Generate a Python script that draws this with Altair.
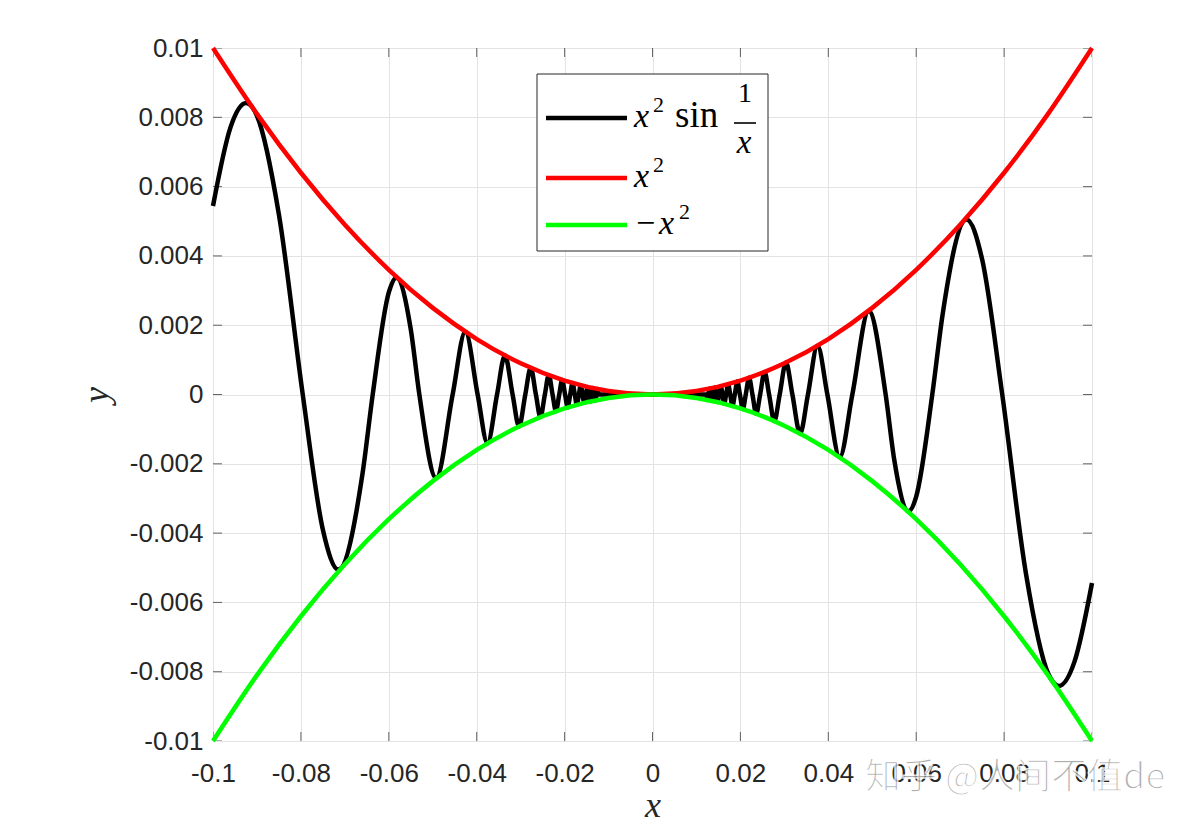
import altair as alt
import pandas as pd

x_ticks = [-0.1, -0.08, -0.06, -0.04, -0.02, 0, 0.02, 0.04, 0.06, 0.08, 0.1]
y_ticks = [-0.01, -0.008, -0.006, -0.004, -0.002, 0, 0.002, 0.004, 0.006, 0.008, 0.01]

series_colors = ["#000000", "#ff0000", "#00ff00"]

black_x = [
    -0.1, -0.096, -0.09246, -0.09, -0.085, -0.07958, -0.075, -0.07145, -0.066, -0.06366,
    -0.06, -0.05826, -0.055, -0.05305, -0.04921, -0.04547, -0.04259, -0.03979, -0.03755,
    -0.03537, -0.03358, -0.03183, -0.03037, -0.02894, -0.02772, -0.02653, -0.0255, -0.02449,
    -0.0236, -0.02274, -0.02197, -0.02122, -0.02055, -0.01989, -0.01931, -0.01872, -0.0182,
    -0.01768, -0.01722, -0.01675, -0.01633, -0.01592, -0.01553, -0.01516, -0.01481, -0.01447,
    -0.01415, -0.01384, -0.01355, -0.01326, -0.013, -0.01273, -0.01249, -0.01224,
    0.0,
    0.01224, 0.01249, 0.01273, 0.013, 0.01326, 0.01355, 0.01384, 0.01415, 0.01447, 0.01481,
    0.01516, 0.01553, 0.01592, 0.01633, 0.01675, 0.01722, 0.01768, 0.0182, 0.01872, 0.01931,
    0.01989, 0.02055, 0.02122, 0.02197, 0.02274, 0.0236, 0.02449, 0.0255, 0.02653, 0.02772,
    0.02894, 0.03037, 0.03183, 0.03358, 0.03537, 0.03755, 0.03979, 0.04259, 0.04547, 0.04921,
    0.05305, 0.055, 0.05826, 0.06, 0.06366, 0.066, 0.07145, 0.075, 0.07958, 0.085, 0.09,
    0.09246, 0.096, 0.1,
]
black_y = [
    0.00544, 0.007717, 0.00841, 0.008045, 0.00519, 0.0, -0.0039, -0.005054, -0.0023, 0.0,
    0.002945, 0.003372, 0.00188, 0.0, -0.00241, 0.0, 0.001808, 0.0, -0.001406,
    0.0, 0.001125, 0.0, -0.000922, 0.0, 0.000768, 0.0, -0.00065, 0.0,
    0.000557, 0.0, -0.000483, 0.0, 0.000422, 0.0, -0.000373, 0.0, 0.000331,
    0.0, -0.000296, 0.0, 0.000267, 0.0, -0.000241, 0.0, 0.000219, 0.0,
    -0.0002, 0.0, 0.000184, 0.0, -0.000169, 0.0, 0.000156, 0.0,
    0.0,
    0.0, -0.000156, 0.0, 0.000169, 0.0, -0.000184, 0.0, 0.0002, 0.0, -0.000219,
    0.0, 0.000241, 0.0, -0.000267, 0.0, 0.000296, 0.0, -0.000331, 0.0, 0.000373,
    0.0, -0.000422, 0.0, 0.000483, 0.0, -0.000557, 0.0, 0.00065, 0.0, -0.000768,
    0.0, 0.000922, 0.0, -0.001125, 0.0, 0.001406, 0.0, -0.001808, 0.0, 0.00241,
    0.0, -0.00188, -0.003372, -0.002945, 0.0, 0.0023, 0.005054, 0.0039, 0.0, -0.00519, -0.008045,
    -0.00841, -0.007717, -0.00544,
]

par_x = [-0.1, -0.09, -0.08, -0.07, -0.06, -0.05, -0.04, -0.03, -0.02, -0.01, 0.0,
         0.01, 0.02, 0.03, 0.04, 0.05, 0.06, 0.07, 0.08, 0.09, 0.1]
red_y = [0.01, 0.0081, 0.0064, 0.0049, 0.0036, 0.0025, 0.0016, 0.0009, 0.0004, 0.0001, 0.0,
         0.0001, 0.0004, 0.0009, 0.0016, 0.0025, 0.0036, 0.0049, 0.0064, 0.0081, 0.01]
green_y = [-0.01, -0.0081, -0.0064, -0.0049, -0.0036, -0.0025, -0.0016, -0.0009, -0.0004, -0.0001, 0.0,
           -0.0001, -0.0004, -0.0009, -0.0016, -0.0025, -0.0036, -0.0049, -0.0064, -0.0081, -0.01]

# legend text pieces (LaTeX-like: x^2 sin 1/x, x^2, -x^2)
leg_x = "x"
leg_two = "2"
leg_sin = "sin"
leg_one = "1"
leg_minus = "−"

watermark = "知乎 @人间不值de"

df_black = pd.DataFrame({"x": black_x, "y": black_y})
df_red = pd.DataFrame({"x": par_x, "y": red_y})
df_green = pd.DataFrame({"x": par_x, "y": green_y})

AX = "#262626"
SERIF = "Liberation Serif"

xscale = alt.Scale(domain=[-0.1, 0.1], nice=False, zero=False)
yscale = alt.Scale(domain=[-0.01, 0.01], nice=False, zero=False)

xaxis = alt.Axis(values=x_ticks, labelExpr="toString(datum.value)", title="x",
                 grid=True, domain=False, ticks=False, labelFlush=False, labelOverlap=False,
                 labelPadding=19, titlePadding=2)
yaxis = alt.Axis(values=y_ticks, labelExpr="toString(datum.value)", title="y",
                 grid=True, domain=False, ticks=False, labelFlush=False, labelOverlap=False,
                 labelPadding=10, titlePadding=14)

xenc = alt.X("x:Q", scale=xscale, axis=xaxis)
yenc = alt.Y("y:Q", scale=yscale, axis=yaxis)


def curve(df, color):
    return alt.Chart(df).mark_line(strokeWidth=4.5, interpolate="monotone", color=color).encode(
        x=xenc, y=yenc)


df_xt = pd.DataFrame({"x": x_ticks})
df_yt = pd.DataFrame({"y": y_ticks})
tick_style = dict(size=18, thickness=1, color=AX, clip=True)

ticks_bottom = alt.Chart(df_xt).mark_tick(orient="vertical", **tick_style).encode(
    x=xenc, y=alt.datum(-0.01))
ticks_top = alt.Chart(df_xt).mark_tick(orient="vertical", **tick_style).encode(
    x=xenc, y=alt.datum(0.01))
ticks_left = alt.Chart(df_yt).mark_tick(orient="horizontal", **tick_style).encode(
    y=yenc, x=alt.datum(-0.1))
ticks_right = alt.Chart(df_yt).mark_tick(orient="horizontal", **tick_style).encode(
    y=yenc, x=alt.datum(0.1))

one = pd.DataFrame({"k": [0]})

# ---- custom legend (box, line samples, math-like labels) ----
leg_box = alt.Chart(one).mark_rect(fill="white", stroke=AX, strokeWidth=1).encode(
    x=alt.value(324), x2=alt.value(555), y=alt.value(26), y2=alt.value(203))


def leg_line(color, y):
    return alt.Chart(one).mark_rule(color=color, strokeWidth=4.5).encode(
        x=alt.value(333), x2=alt.value(414), y=alt.value(y))


def leg_text(s, x, y, size, italic, align="left"):
    return alt.Chart(pd.DataFrame({"t": [s]})).mark_text(
        font=SERIF, fontSize=size, fontStyle="italic" if italic else "normal",
        align=align, baseline="alphabetic", color="black"
    ).encode(x=alt.value(x), y=alt.value(y), text="t:N")


legend_layers = [
    leg_box,
    leg_line(series_colors[0], 70),
    leg_line(series_colors[1], 130),
    leg_line(series_colors[2], 177),
    # row 1: x^2 sin 1/x
    leg_text(leg_x, 421, 79, 34, True),
    leg_text(leg_two, 440, 64, 22, False),
    leg_text(leg_sin, 462, 79, 37, False),
    leg_text(leg_one, 532, 54, 28, False, "center"),
    alt.Chart(one).mark_rule(color="black", strokeWidth=1.6).encode(
        x=alt.value(521), x2=alt.value(543), y=alt.value(75)),
    leg_text(leg_x, 531, 105, 33, True, "center"),
    # row 2: x^2
    leg_text(leg_x, 421, 139, 34, True),
    leg_text(leg_two, 440, 124, 22, False),
    # row 3: -x^2
    leg_text(leg_minus, 423, 186, 34, False),
    leg_text(leg_x, 446, 186, 34, True),
    leg_text(leg_two, 466, 171, 22, False),
]

wm = alt.Chart(pd.DataFrame({"t": [watermark]})).mark_text(
    align="left", baseline="middle", font="Noto Sans CJK SC", fontSize=36,
    color="#9a9a9a", opacity=0.8, stroke="white", strokeWidth=1.5
).encode(x=alt.value(652), y=alt.value(730), text="t:N")

chart = alt.layer(
    ticks_bottom, ticks_top, ticks_left, ticks_right,
    curve(df_black, series_colors[0]), curve(df_red, series_colors[1]),
    curve(df_green, series_colors[2]),
    *legend_layers, wm
).properties(
    width=879, height=693,
    padding={"left": 205, "top": 40, "right": 85, "bottom": 78},
    autosize=alt.AutoSizeParams(type="none"),
).configure_view(
    stroke=AX, strokeWidth=1
).configure_axis(
    gridColor="#e3e3e3", gridWidth=1,
    labelFont="Liberation Sans", labelFontSize=26, labelColor=AX,
    titleFont=SERIF, titleFontStyle="italic", titleFontSize=36,
    titleFontWeight="normal", titleColor=AX,
)

chart.save("out.html", embed_options={"renderer": "svg", "actions": False})
